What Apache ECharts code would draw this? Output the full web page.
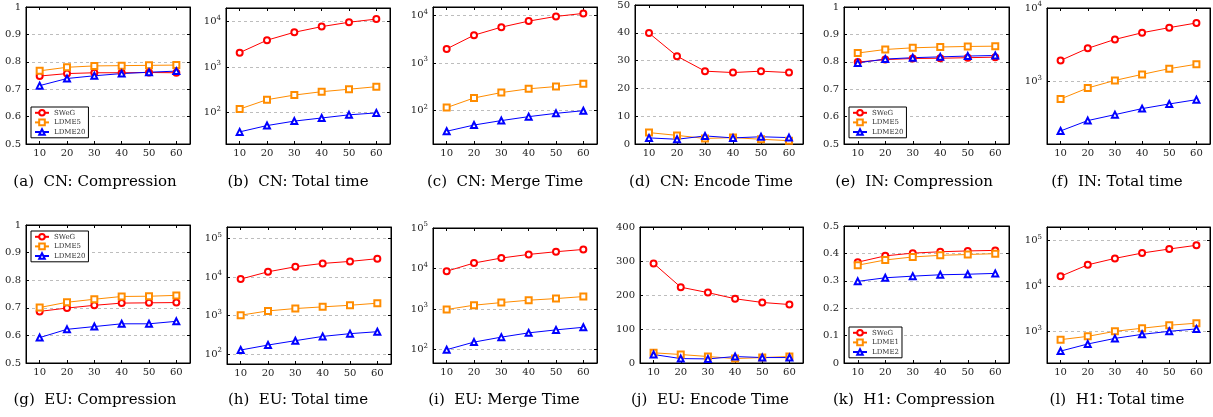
<!DOCTYPE html>
<html>
<head>
<meta charset="utf-8">
<script src="https://cdn.jsdelivr.net/npm/echarts@6/dist/echarts.min.js"></script>
<style>
html, body { margin: 0; padding: 0; background: #fff; }
#app { width: 1213px; height: 417px; }
</style>
</head>
<body>
<div id="app"></div>
<script>
// x categories (shared by every panel)
const xCats = ['10', '20', '30', '40', '50', '60'];

const namesLDME = ['SWeG', 'LDME5', 'LDME20'];
const namesH1 = ['SWeG', 'LDME1', 'LDME2'];

// [SWeG, LDME5, LDME20] per panel
const cnComp = [
  [0.748, 0.757, 0.760, 0.760, 0.761, 0.760],
  [0.767, 0.780, 0.785, 0.786, 0.787, 0.788],
  [0.713, 0.739, 0.749, 0.757, 0.762, 0.766]
];
const cnTotal = [
  [2070, 3900, 5830, 7770, 9700, 11400],
  [118, 190, 240, 285, 323, 367],
  [37, 51, 64, 75, 88, 97]
];
const cnMerge = [
  [1980, 3840, 5660, 7580, 9520, 11000],
  [116, 185, 240, 288, 321, 366],
  [37, 50, 62, 75, 88, 100]
];
const cnEncode = [
  [39.9, 31.6, 26.2, 25.7, 26.2, 25.7],
  [4.1, 3.1, 2.0, 2.3, 1.7, 1.2],
  [2.2, 1.7, 2.9, 2.2, 2.6, 2.3]
];
const inComp = [
  [0.799, 0.808, 0.812, 0.813, 0.815, 0.817],
  [0.832, 0.845, 0.851, 0.854, 0.856, 0.857],
  [0.796, 0.810, 0.815, 0.818, 0.821, 0.823]
];
const inTotal = [
  [1930, 2820, 3730, 4600, 5400, 6250],
  [575, 813, 1030, 1245, 1490, 1710],
  [211, 292, 352, 425, 492, 563]
];
const euComp = [
  [0.687, 0.699, 0.709, 0.717, 0.718, 0.719],
  [0.701, 0.720, 0.731, 0.741, 0.742, 0.745],
  [0.592, 0.622, 0.632, 0.642, 0.642, 0.651]
];
const euTotal = [
  [8870, 13700, 18500, 22600, 25500, 30000],
  [1020, 1320, 1520, 1680, 1850, 2090],
  [127, 171, 222, 287, 338, 380]
];
const euMerge = [
  [8590, 13700, 18200, 22300, 26000, 29600],
  [980, 1250, 1450, 1660, 1820, 2040],
  [100, 154, 204, 260, 308, 357]
];
const euEncode = [
  [293, 223, 207, 189, 178, 172],
  [30, 25, 19, 13, 16, 19],
  [25, 13, 12, 19, 16, 16]
];
// [SWeG, LDME1, LDME2]
const h1Comp = [
  [0.368, 0.391, 0.401, 0.406, 0.409, 0.411],
  [0.357, 0.376, 0.387, 0.393, 0.396, 0.399],
  [0.298, 0.311, 0.317, 0.322, 0.324, 0.327]
];
const h1Total = [
  [16400, 29300, 40600, 53300, 65400, 79000],
  [655, 774, 1000, 1170, 1360, 1510],
  [366, 525, 698, 857, 1000, 1130]
];

const FONT = 'DejaVu Serif';
const colors = ['#ff0000', '#ff8c00', '#0000ff'];
const symbols = ['emptyCircle', 'emptyRect', 'emptyTriangle'];

const comp = { type: 'value', min: 0.5, max: 1, interval: 0.1 };

// layout of each sub figure
const panels = [
  { data: cnComp, names: namesLDME, box: [26, 7, 164, 137], y: comp, legend: [31, 107], cap: '(a)  CN: Compression', c: [95, 182] },
  { data: cnTotal, names: namesLDME, box: [226, 8, 164, 136], y: { type: 'log', min: 20, max: 20000 }, cap: '(b)  CN: Total time', c: [298, 182] },
  { data: cnMerge, names: namesLDME, box: [433, 7, 164, 137], y: { type: 'log', min: 20, max: 15000 }, cap: '(c)  CN: Merge Time', c: [505, 182] },
  { data: cnEncode, names: namesLDME, box: [635, 5, 168, 139], y: { type: 'value', min: 0, max: 50, interval: 10 }, cap: '(d)  CN: Encode Time', c: [711, 182] },
  { data: inComp, names: namesLDME, box: [844, 7, 165, 137], y: comp, legend: [849, 107], cap: '(e)  IN: Compression', c: [914, 182] },
  { data: inTotal, names: namesLDME, box: [1047, 8, 163, 136], y: { type: 'log', min: 140, max: 10000 }, cap: '(f)  IN: Total time', c: [1117, 182] },
  { data: euComp, names: namesLDME, box: [26, 225, 164, 138], y: comp, legend: [31, 231], cap: '(g)  EU: Compression', c: [95, 400] },
  { data: euTotal, names: namesLDME, box: [227, 227, 164, 137], y: { type: 'log', min: 55, max: 200000 }, cap: '(h)  EU: Total time', c: [298, 400] },
  { data: euMerge, names: namesLDME, box: [433, 228, 164, 135], y: { type: 'log', min: 47, max: 100000 }, cap: '(i)  EU: Merge Time', c: [504, 400] },
  { data: euEncode, names: namesLDME, box: [640, 227, 163, 136], y: { type: 'value', min: 0, max: 400, interval: 100 }, cap: '(j)  EU: Encode Time', c: [710, 400] },
  { data: h1Comp, names: namesH1, box: [844, 226, 165, 137], y: { type: 'value', min: 0, max: 0.5, interval: 0.1 }, legend: [849, 327], cap: '(k)  H1: Compression', c: [914, 400] },
  { data: h1Total, names: namesH1, box: [1047, 227, 163, 136], y: { type: 'log', min: 200, max: 200000 }, cap: '(l)  H1: Total time', c: [1117, 400] }
];

function logLabel(v) {
  const e = Math.log10(v);
  const r = Math.round(e);
  if (Math.abs(e - r) > 1e-6) return '';
  return '{b|10}{s|' + r + '}';
}

const line = { show: true, onZero: false, lineStyle: { color: '#000', width: 1 } };
const tick = { show: true, inside: true, length: 3, lineStyle: { color: '#000' } };

let grid = [], xAxis = [], yAxis = [], series = [], legend = [], graphic = [];

panels.forEach(function (p, i) {
  grid.push({ left: p.box[0], top: p.box[1], width: p.box[2], height: p.box[3], show: true, borderColor: '#000', borderWidth: 1 });

  xAxis.push({
    gridIndex: i, type: 'category', data: xCats, position: 'bottom',
    axisLine: line, axisTick: Object.assign({ alignWithLabel: true }, tick),
    axisLabel: { fontFamily: FONT, fontSize: 10, color: '#222', margin: 4, interval: 0 },
    splitLine: { show: false }
  });
  xAxis.push({
    gridIndex: i, type: 'category', data: xCats, position: 'top',
    axisLine: line, axisTick: Object.assign({ alignWithLabel: true }, tick),
    axisLabel: { show: false }, splitLine: { show: false }
  });

  let isLog = p.y.type === 'log';
  let label = { fontFamily: FONT, fontSize: 10, color: '#222', margin: 5 };
  if (isLog) {
    label.formatter = logLabel;
    label.rich = {
      b: { fontFamily: FONT, fontSize: 10, color: '#222', lineHeight: 14 },
      s: { fontFamily: FONT, fontSize: 7, color: '#222', lineHeight: 8, verticalAlign: 'top' }
    };
  }
  yAxis.push(Object.assign({
    gridIndex: i, position: 'left',
    axisLine: line, axisTick: tick, axisLabel: label,
    splitLine: { show: true, lineStyle: { color: '#bdbdbd', type: [3, 3], width: 1 } }
  }, p.y));
  yAxis.push(Object.assign({
    gridIndex: i, position: 'right',
    axisLine: line, axisTick: tick, axisLabel: { show: false },
    splitLine: { show: false }
  }, p.y));

  p.data.forEach(function (vals, s) {
    series.push({
      type: 'line', name: p.names[s],
      xAxisIndex: 2 * i, yAxisIndex: 2 * i,
      data: vals,
      symbol: symbols[s], symbolSize: 6, showAllSymbol: true,
      itemStyle: { color: colors[s], borderWidth: 1 },
      lineStyle: { color: colors[s], width: 1 },
      emphasis: { disabled: true }
    });
  });

  if (p.legend) {
    legend.push({
      orient: 'vertical', left: p.legend[0], top: p.legend[1],
      data: p.names, itemWidth: 14, itemHeight: 7, itemGap: 2, padding: [2, 3],
      borderColor: '#000', borderWidth: 1, backgroundColor: '#fff',
      selectedMode: false,
      textStyle: { fontFamily: FONT, fontSize: 7, color: '#333' }
    });
  }

  graphic.push({
    type: 'text', x: p.c[0], y: p.c[1],
    style: { text: p.cap, font: '15px "DejaVu Serif"', fill: '#000', align: 'center', verticalAlign: 'middle' }
  });
});

let chart = echarts.init(document.getElementById('app'), null, { renderer: 'canvas' });
chart.setOption({
  animation: false,
  backgroundColor: '#fff',
  grid: grid,
  xAxis: xAxis,
  yAxis: yAxis,
  legend: legend,
  graphic: graphic,
  series: series
});
</script>
</body>
</html>
